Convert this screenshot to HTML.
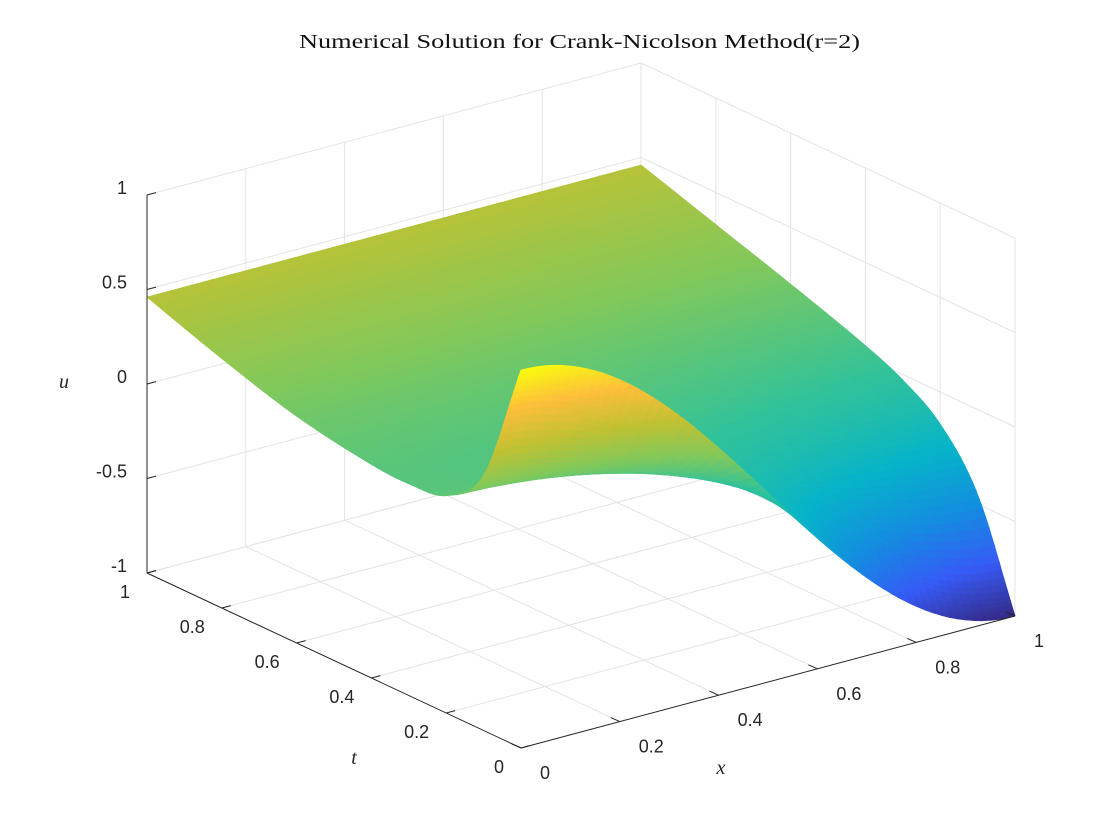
<!DOCTYPE html>
<html>
<head>
<meta charset="utf-8">
<style>
html,body{margin:0;padding:0;background:#fff;}
svg{display:block;}
.tk{font-family:"Liberation Sans",Arial,sans-serif;font-size:18px;fill:#262626;}
.lb{font-family:"Liberation Serif",serif;font-style:italic;font-size:20px;fill:#262626;}
</style>
</head>
<body>
<svg id="chart" width="1120" height="840" viewBox="0 0 1120 840">
<text x="299" y="48" textLength="561" lengthAdjust="spacingAndGlyphs" font-family="Liberation Serif, serif" font-size="20" fill="#111">Numerical Solution for Crank-Nicolson Method(r=2)</text>
<g id="grid"></g>
<g id="surf"></g>
<g id="axes"></g>
<text class="lb" x="64" y="388" text-anchor="middle">u</text>
<text class="lb" x="354" y="764" text-anchor="middle">t</text>
<text class="lb" x="721" y="774" text-anchor="middle">x</text>
</svg>
<script>
// data
const tSamples = [0, 0.1, 0.2, 0.3, 0.4, 0.6, 0.8, 1.0];
const leftBoundary = [1.0, 0.35, 0.15, 0.12, 0.13, 0.2, 0.32, 0.46];
const rightBoundary = [-1.0, -0.45, -0.17, -0.03, 0.06, 0.2, 0.33, 0.46];
const xTicks = [0, 0.2, 0.4, 0.6, 0.8, 1];
const tTicks = [0, 0.2, 0.4, 0.6, 0.8, 1];
const uTicks = [-1, -0.5, 0, 0.5, 1];
const uTickLabels = ["-1", "-0.5", "0", "0.5", "1"];

const NS = "http://www.w3.org/2000/svg";
function P(x, t, u) {
  return [521 + 494 * x - 374 * t, 748 - 132 * x - 175 * t - 189 * (u + 1)];
}
function interp(arr, t) {
  const n = tSamples.length;
  for (let i = 0; i < n - 1; i++) {
    if (t <= tSamples[i + 1] || i === n - 2) {
      const h = tSamples[i + 1] - tSamples[i];
      const f = (t - tSamples[i]) / h;
      const m = k => {
        const a = Math.max(0, k - 1), b = Math.min(n - 1, k + 1);
        return (arr[b] - arr[a]) / (tSamples[b] - tSamples[a]) * h;
      };
      const m0 = m(i), m1 = m(i + 1);
      const f2 = f * f, f3 = f2 * f;
      return (2*f3 - 3*f2 + 1) * arr[i] + (f3 - 2*f2 + f) * m0 + (-2*f3 + 3*f2) * arr[i + 1] + (f3 - f2) * m1;
    }
  }
  return arr[n - 1];
}
function U(x, t) {
  return (1 - x) * interp(leftBoundary, t) + x * interp(rightBoundary, t)
    + (Math.cos(Math.PI * x) - (1 - 2 * x)) * Math.exp(-Math.PI * Math.PI * t);
}
const parula = [[0.208,0.166,0.529],[0.212,0.357,0.965],[0.078,0.553,0.878],[0.024,0.705,0.786],[0.196,0.762,0.602],[0.506,0.787,0.357],[0.756,0.757,0.196],[0.992,0.745,0.235],[0.976,0.984,0.055]];
function col(u) {
  let v = Math.max(0, Math.min(1, (u + 1) / 2)) * (parula.length - 1);
  const i = Math.min(parula.length - 2, Math.floor(v)), f = v - i;
  const c = parula[i].map((a, k) => Math.round(255 * (a + f * (parula[i + 1][k] - a))));
  return "rgb(" + c.join(",") + ")";
}
function line(g, a, b, stroke, name, w) {
  const l = document.createElementNS(NS, "line");
  l.setAttribute("x1", a[0]); l.setAttribute("y1", a[1]);
  l.setAttribute("x2", b[0]); l.setAttribute("y2", b[1]);
  l.setAttribute("stroke", stroke); l.setAttribute("stroke-width", w || 1);
  
  
  g.appendChild(l);
}
function text(g, x, y, s, anchor, name) {
  const e = document.createElementNS(NS, "text");
  e.setAttribute("x", x); e.setAttribute("y", y);
  e.setAttribute("class", "tk"); e.setAttribute("text-anchor", anchor);
  e.textContent = s;
  
  
  g.appendChild(e);
}
const grid = document.getElementById("grid");
const gc = "#e3e3e3";
xTicks.forEach(x => line(grid, P(x, 1, -1), P(x, 1, 1), gc, "grid-line-x"));
uTicks.forEach(u => line(grid, P(0, 1, u), P(1, 1, u), gc, "grid-line-u"));
tTicks.forEach(t => line(grid, P(1, t, -1), P(1, t, 1), gc, "grid-line-t"));
uTicks.forEach(u => line(grid, P(1, 0, u), P(1, 1, u), gc, "grid-line-u"));
xTicks.forEach(x => line(grid, P(x, 0, -1), P(x, 1, -1), gc, "floor-grid-x"));
tTicks.forEach(t => line(grid, P(0, t, -1), P(1, t, -1), gc, "floor-grid-t"));

// surface
const surf = document.getElementById("surf");
const NX = 60, NT = 70, quads = [];
const tg = j => Math.pow(j / NT, 1.8);
for (let i = 0; i < NX; i++) for (let j = 0; j < NT; j++) {
  const x0 = i / NX, x1 = (i + 1) / NX, t0 = tg(j), t1 = tg(j + 1);
  quads.push({ d: x0 + t0, pts: [[x0, t0], [x1, t0], [x1, t1], [x0, t1]] });
}
quads.sort((a, b) => b.d - a.d);
quads.forEach(q => {
  let us = 0;
  const pts = q.pts.map(([x, t]) => { const u = U(x, t); us += u; return P(x, t, u).map(v => v.toFixed(1)).join(","); });
  const c = col(us / 4);
  const p = document.createElementNS(NS, "polygon");
  p.setAttribute("points", pts.join(" "));
  p.setAttribute("fill", c); p.setAttribute("stroke", c); p.setAttribute("stroke-width", "0.8");
  
  
  surf.appendChild(p);
});

// axes
const ax = document.getElementById("axes");
const ac = "#262626";
line(ax, P(0, 1, -1), P(0, 1, 1), ac, "u-axis-line");
line(ax, P(0, 1, -1), P(0, 0, -1), ac, "t-axis-line");
line(ax, P(0, 0, -1), P(1, 0, -1), ac, "x-axis-line");
uTicks.forEach((u, k) => {
  const p = P(0, 1, u);
  line(ax, p, [p[0] + 9, p[1] - 2.4], ac, "u-tick");
  text(ax, p[0] - 20, p[1] - 1, uTickLabels[k], "end", "u-tick-label");
});
tTicks.forEach(t => {
  const p = P(0, t, -1);
  line(ax, p, [p[0] + 9, p[1] - 2.4], ac, "t-tick");
  text(ax, p[0] - 17, p[1] + 25, String(t), "end", "t-tick-label");
});
xTicks.forEach(x => {
  const p = P(x, 0, -1);
  line(ax, p, [p[0] - 9, p[1] - 4], ac, "x-tick");
  text(ax, p[0] + 19, p[1] + 31, String(x), "start", "x-tick-label");
});
</script>
</body>
</html>
